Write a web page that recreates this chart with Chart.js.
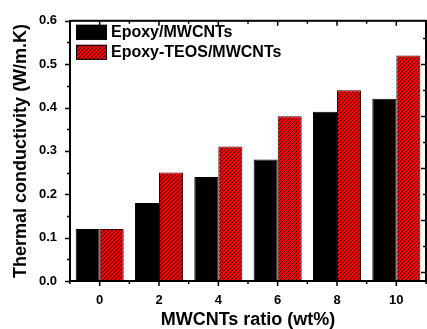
<!DOCTYPE html>
<html>
<head>
<meta charset="utf-8">
<script src="https://cdn.jsdelivr.net/npm/chart.js@4"></script>
<style>
  body { margin: 0; background: #fff; }
</style>
</head>
<body>
<canvas id="chart" width="427" height="329"></canvas>
<script>
const categories = ['0', '2', '4', '6', '8', '10'];
const epoxyMwcnts = [0.12, 0.18, 0.24, 0.28, 0.39, 0.42];
const epoxyTeosMwcnts = [0.12, 0.25, 0.31, 0.38, 0.44, 0.52];
const yTickValues = [0, 0.1, 0.2, 0.3, 0.4, 0.5, 0.6];

const FONT = '"Liberation Sans", Arial, sans-serif';

// black diagonal hatch lines over a rect
function hatchRect(ctx, left, top, w, h) {
    ctx.save();
    ctx.beginPath();
    ctx.rect(left, top, w, h);
    ctx.clip();
    ctx.strokeStyle = '#000';
    ctx.lineWidth = 0.9;
    ctx.beginPath();
    for (let k = left - h; k < left + w + 4; k += 4) {
        ctx.moveTo(k, top + h);
        ctx.lineTo(k + h, top);
    }
    ctx.stroke();
    ctx.restore();
}

const hatchBars = {
    id: 'hatchBars',
    afterDatasetsDraw(chart) {
        const {ctx} = chart;
        chart.getDatasetMeta(1).data.forEach(el => {
            const {x, y, base, width} = el.getProps(['x', 'y', 'base', 'width'], true);
            hatchRect(ctx, x - width / 2 + 1, y + 1, width - 2, base - y - 1);
        });
    }
};

// frame + tick marks (left/bottom outward, top/right inward)
const frameTicks = {
    id: 'frameTicks',
    afterDatasetsDraw(chart) {
        const {ctx, chartArea: a, scales} = chart;
        ctx.save();
        ctx.strokeStyle = '#000';
        ctx.lineWidth = 1.5;
        ctx.beginPath();
        // left axis
        const y = scales.y;
        for (let v = 0; v <= 0.6001; v += 0.05) {
            const p = Math.round(y.getPixelForValue(v)) + 0.5;
            const major = Math.round(v * 20) % 2 === 0;
            ctx.moveTo(a.left, p); ctx.lineTo(a.left - (major ? 5 : 3), p);
        }
        // bottom axis
        const x = scales.x;
        categories.forEach((c, i) => {
            const p = x.getPixelForValue(i);
            ctx.moveTo(p, a.bottom); ctx.lineTo(p, a.bottom + 5);
        });
        for (let i = -0.5; i <= categories.length - 0.5; i += 1) {
            const p = x.getPixelForValue(i);
            ctx.moveTo(p, a.bottom); ctx.lineTo(p, a.bottom + 3);
        }
        // top axis
        const xt = scales.xt;
        for (let v = 0; v <= 10; v++) {
            const p = xt.getPixelForValue(v);
            ctx.moveTo(p, a.top); ctx.lineTo(p, a.top + (v % 2 === 0 ? 5 : 3));
        }
        // right axis
        const yr = scales.yr;
        for (let v = 0; v <= 9; v++) {
            const p = Math.round(yr.getPixelForValue(v)) + 0.5;
            ctx.moveTo(a.right, p); ctx.lineTo(a.right - (v % 2 === 0 ? 5 : 3), p);
        }
        ctx.stroke();

        ctx.lineWidth = 2;
        ctx.strokeRect(a.left, a.top, a.right - a.left, a.bottom - a.top);
        ctx.restore();
    }
};

// legend inside the plot, top left
const insideLegend = {
    id: 'insideLegend',
    afterDraw(chart) {
        const {ctx, chartArea: a} = chart;
        ctx.save();
        ctx.font = 'bold 16px ' + FONT;
        ctx.textBaseline = 'middle';
        chart.data.datasets.forEach((ds, i) => {
            const bx = a.left + 6, by = a.top + 4 + i * 20;
            ctx.fillStyle = ds.backgroundColor;
            ctx.fillRect(bx, by, 31, 15);
            if (i === 1) hatchRect(ctx, bx, by, 31, 15);
            ctx.strokeStyle = '#000';
            ctx.lineWidth = 1;
            ctx.strokeRect(bx + 0.5, by + 0.5, 30, 14);
            ctx.fillStyle = '#000';
            ctx.fillText(ds.label, bx + 35, by + 8);
        });
        ctx.restore();
    }
};

new Chart(document.getElementById('chart'), {
    type: 'bar',
    data: {
        labels: categories,
        datasets: [
            {
                label: 'Epoxy/MWCNTs',
                data: epoxyMwcnts,
                backgroundColor: '#000000',
                borderColor: '#000000',
                borderWidth: 1
            },
            {
                label: 'Epoxy-TEOS/MWCNTs',
                data: epoxyTeosMwcnts,
                backgroundColor: '#ff0000',
                borderColor: '#3a0000',
                borderWidth: 1
            }
        ]
    },
    options: {
        responsive: false,
        animation: false,
        categoryPercentage: 0.81,
        barPercentage: 1,
        layout: { padding: { top: 16, right: 1, left: 0, bottom: 0 } },
        plugins: {
            legend: { display: false },
            tooltip: { enabled: false }
        },
        scales: {
            x: {
                grid: { display: false, drawTicks: false },
                border: { display: false },
                ticks: {
                    color: '#000',
                    padding: 12,
                    font: { family: FONT, size: 13, weight: 'bold' }
                },
                title: {
                    display: true,
                    text: 'MWCNTs ratio (wt%)',
                    color: '#000',
                    padding: { top: 0, bottom: 0 },
                    font: { family: FONT, size: 18, weight: 'bold', lineHeight: 1 }
                },
                afterFit: s => { s.height = 48; }
            },
            y: {
                min: 0,
                max: 0.6,
                afterBuildTicks: s => { s.ticks = yTickValues.map(v => ({ value: v })); },
                grid: { display: false, drawTicks: false },
                border: { display: false },
                ticks: {
                    color: '#000',
                    padding: 13,
                    font: { family: FONT, size: 13, weight: 'bold' },
                    callback: v => v.toFixed(1)
                },
                title: {
                    display: true,
                    text: 'Thermal conductivity (W/m.K)',
                    color: '#000',
                    padding: { top: 12, bottom: 0 },
                    font: { family: FONT, size: 18, weight: 'bold', lineHeight: 1 }
                },
                afterFit: s => { s.width = 70; }
            },
            xt: { axis: 'x', type: 'linear', position: 'top', min: 0, max: 10, display: false },
            yr: { axis: 'y', type: 'linear', position: 'right', min: -0.347, max: 9.653, display: false }
        }
    },
    plugins: [hatchBars, frameTicks, insideLegend]
});
</script>
</body>
</html>
